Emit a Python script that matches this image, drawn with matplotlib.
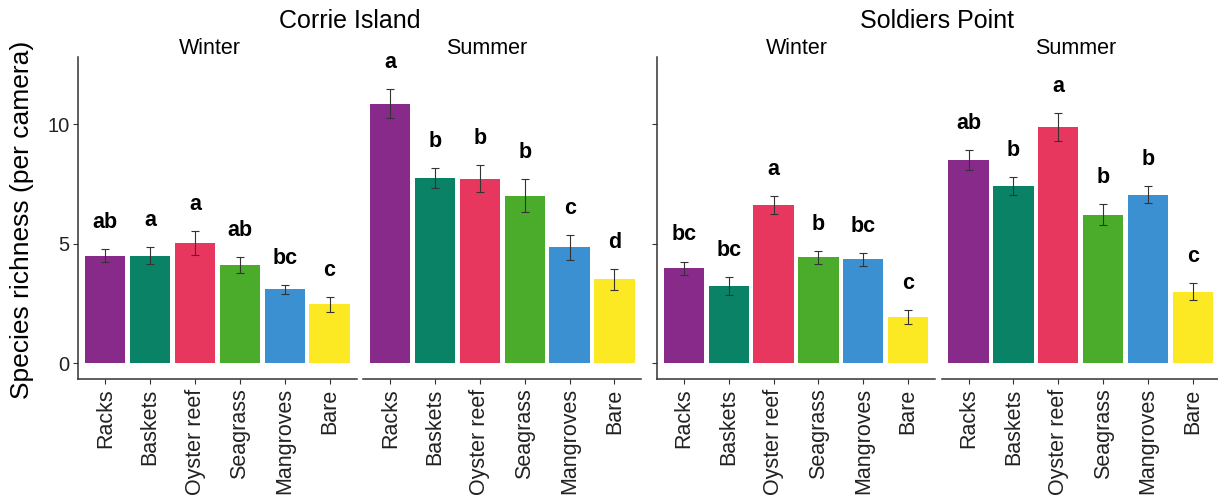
import matplotlib
matplotlib.use("Agg")
import matplotlib.pyplot as plt

plt.rcParams['font.family'] = ['Liberation Sans', 'DejaVu Sans']

habitats = ["Racks", "Baskets", "Oyster reef", "Seagrass", "Mangroves", "Bare"]
colours = ["#882A8A", "#0A8265", "#E8375F", "#4BAB2B", "#3A90D0", "#FCE823"]

corrie_winter_mean = [4.51, 4.51, 5.03, 4.10, 3.10, 2.47]
corrie_winter_se = [0.26, 0.36, 0.49, 0.33, 0.19, 0.32]
corrie_winter_letters = ["ab", "a", "a", "ab", "bc", "c"]

corrie_summer_mean = [10.86, 7.76, 7.73, 7.01, 4.85, 3.51]
corrie_summer_se = [0.60, 0.42, 0.55, 0.69, 0.51, 0.43]
corrie_summer_letters = ["a", "b", "b", "b", "c", "d"]

soldiers_winter_mean = [3.97, 3.22, 6.64, 4.43, 4.35, 1.93]
soldiers_winter_se = [0.29, 0.38, 0.38, 0.27, 0.28, 0.28]
soldiers_winter_letters = ["bc", "bc", "a", "b", "bc", "c"]

soldiers_summer_mean = [8.51, 7.43, 9.90, 6.22, 7.06, 3.00]
soldiers_summer_se = [0.43, 0.38, 0.58, 0.43, 0.34, 0.34]
soldiers_summer_letters = ["ab", "b", "a", "b", "b", "c"]

W, H = 1218, 499
fig = plt.figure(figsize=(W / 100, H / 100), dpi=100)

# panel edges in pixels (left, right); shared top / bottom
panel_px = [(78.4, 356.5), (363.4, 641.4), (657.0, 935.0), (941.7, 1219.7)]
top_px, bottom_px = 57.0, 379.3

panels = [
    (corrie_winter_mean, corrie_winter_se, corrie_winter_letters),
    (corrie_summer_mean, corrie_summer_se, corrie_summer_letters),
    (soldiers_winter_mean, soldiers_winter_se, soldiers_winter_letters),
    (soldiers_summer_mean, soldiers_summer_se, soldiers_summer_letters),
]

x = list(range(len(habitats)))
for i, ((l, r), (means, ses, letters)) in enumerate(zip(panel_px, panels)):
    ax = fig.add_axes([l / W, (H - bottom_px) / H, (r - l) / W, (bottom_px - top_px) / H])
    ax.bar(x, means, width=0.9, color=colours)
    ax.errorbar(x, means, yerr=ses, fmt="none", ecolor="#333333",
                elinewidth=0.8, capsize=3, capthick=0.8)
    for xi, m, s, lab in zip(x, means, ses, letters):
        ax.text(xi, m + s + 0.88, lab, ha="center", va="baseline",
                fontsize=15.5, fontweight="bold")
    ax.set_xlim(-0.6, 5.6)
    ax.set_ylim(-0.67, 12.82)
    ax.set_xticks(x)
    ax.set_xticklabels(habitats, rotation=90, fontsize=15.5, color="#222222")
    ax.set_yticks([0, 5, 10])
    for side in ["top", "right"]:
        ax.spines[side].set_visible(False)
    ax.spines["bottom"].set_linewidth(1.1)
    ax.spines["bottom"].set_color("#333333")
    ax.spines["left"].set_linewidth(1.1)
    ax.spines["left"].set_color("#333333")
    ax.tick_params(axis="both", length=3.5, width=0.8, color="#333333", pad=3)
    if i == 0:
        ax.set_yticklabels(["0", "5", "10"], fontsize=14.5, color="#222222")
    elif i == 2:
        ax.set_yticklabels([])
    else:
        ax.spines["left"].set_visible(False)
        ax.tick_params(axis="y", left=False, labelleft=False)

# strip / site titles
strips = [("Winter", 209.5), ("Summer", 486.5), ("Winter", 797.0), ("Summer", 1076.0)]
for name, cx in strips:
    fig.text(cx / W, 1 - 49 / H, name, ha="center", va="center", fontsize=15.5)

fig.text(350 / W, 1 - 21 / H, "Corrie Island", ha="center", va="center", fontsize=18)
fig.text(937 / W, 1 - 21 / H, "Soldiers Point", ha="center", va="center", fontsize=18)

fig.text(22 / W, 1 - 220 / H, "Species richness (per camera)", rotation=90,
         ha="center", va="center", fontsize=19)

fig.savefig("out.png", dpi=100)
